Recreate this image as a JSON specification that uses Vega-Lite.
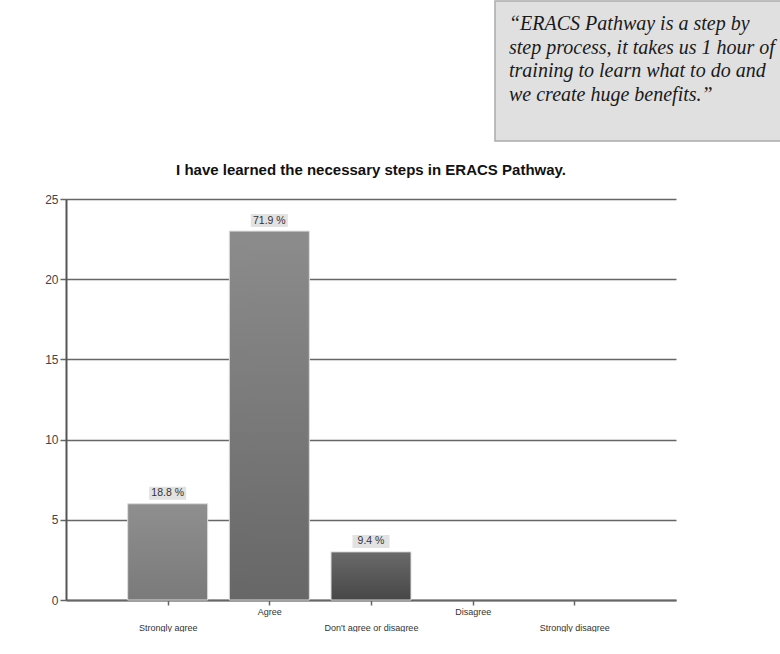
{
  "$schema": "https://vega.github.io/schema/vega-lite/v6.json",
  "padding": 0,
  "background": "white",
  "spacing": 20,
  "config": {"view": {"stroke": null}, "font": "Liberation Sans"},
  "vconcat": [
    {
      "spacing": 0,
      "hconcat": [
        {
          "width": 428,
          "height": 142,
          "data": {"values": []},
          "mark": "point"
        },
        {
          "width": 286,
          "height": 140,
          "view": {"fill": "#e0e0e0", "stroke": "#aaaaaa", "strokeWidth": 1.5},
          "data": {"values": [{"quote": "“ERACS Pathway is a step by\nstep process, it takes us 1 hour of\ntraining to learn what to do and\nwe create huge benefits.”"}]},
          "mark": {"type": "text", "lineBreak": "\n", "lineHeight": 23.5, "align": "left", "baseline": "top", "x": 14, "y": 13, "font": "Liberation Serif", "fontStyle": "italic", "fontSize": 20, "color": "#1a1a1a"},
          "encoding": {"text": {"field": "quote"}}
        }
      ]
    },
    {
      "width": 610,
      "height": 401,
      "title": {"text": "I have learned the necessary steps in ERACS Pathway.", "fontSize": 15, "fontWeight": "bold", "font": "Liberation Sans", "color": "#111", "offset": 15},
      "data": {"values": [
        {"cat": "Strongly agree", "n": 6, "pct": "18.8 %"},
        {"cat": "Agree", "n": 23, "pct": "71.9 %"},
        {"cat": "Don't agree or disagree", "n": 3, "pct": "9.4 %"},
        {"cat": "Disagree", "n": 0, "pct": ""},
        {"cat": "Strongly disagree", "n": 0, "pct": ""}
      ]},
      "encoding": {
        "x": {"field": "cat", "type": "nominal", "sort": null,
          "scale": {"type": "point", "padding": 1, "domain": ["Strongly agree", "Agree", "Don't agree or disagree", "Disagree", "Strongly disagree"]},
          "axis": {"title": null, "labelAngle": 0, "labelFontSize": 9, "labelColor": "#333", "tickSize": 5, "tickColor": "#666", "tickWidth": 1.5, "domainColor": "#666", "domainWidth": 2, "grid": false,
            "labelPadding": {"condition": {"test": "datum.value === 'Agree' || datum.value === 'Disagree'", "value": 2}, "value": 18}}},
        "y": {"field": "n", "type": "quantitative", "scale": {"domain": [0, 25]},
          "axis": {"title": null, "values": [0, 5, 10, 15, 20, 25], "minExtent": 66, "labelFontSize": 12, "labelColor": "#444", "tickSize": 6, "tickColor": "#666", "tickWidth": 1.5, "domainColor": "#555", "domainWidth": 2, "grid": true, "gridColor": "#666", "gridWidth": 1.5}}
      },
      "layer": [
        {
          "transform": [{"filter": "datum.n > 0"}],
          "mark": {"type": "bar", "width": 80, "stroke": "#dddddd", "strokeWidth": 1},
          "encoding": {
            "fill": {
              "condition": [
                {"test": "datum.cat === 'Strongly agree'", "value": {"gradient": "linear", "x1": 0, "y1": 0, "x2": 0, "y2": 1, "stops": [{"offset": 0, "color": "#8f8f8f"}, {"offset": 1, "color": "#7a7a7a"}]}},
                {"test": "datum.cat === 'Agree'", "value": {"gradient": "linear", "x1": 0, "y1": 0, "x2": 0, "y2": 1, "stops": [{"offset": 0, "color": "#8c8c8c"}, {"offset": 1, "color": "#676767"}]}}
              ],
              "value": {"gradient": "linear", "x1": 0, "y1": 0, "x2": 0, "y2": 1, "stops": [{"offset": 0, "color": "#6a6a6a"}, {"offset": 1, "color": "#474747"}]}
            }
          }
        },
        {
          "transform": [{"filter": "datum.pct != ''"}],
          "mark": {"type": "tick", "orient": "horizontal", "size": 37, "thickness": 13, "color": "#e2e2e2", "opacity": 1, "yOffset": -10.5},
          "encoding": {}
        },
        {
          "transform": [{"filter": "datum.pct != ''"}],
          "mark": {"type": "text", "fontSize": 10.5, "color": "#333", "baseline": "middle", "yOffset": -10.5},
          "encoding": {"text": {"field": "pct"}}
        }
      ]
    }
  ]
}
